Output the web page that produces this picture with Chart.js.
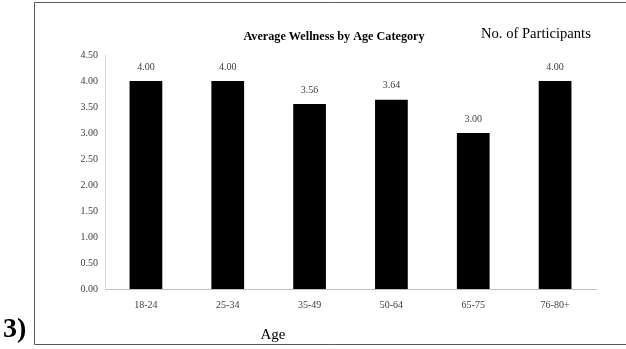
<!DOCTYPE html>
<html>
<head>
<meta charset="utf-8">
<script src="https://cdn.jsdelivr.net/npm/chart.js@4.4.1/dist/chart.umd.min.js"></script>
<style>
  html, body { margin: 0; padding: 0; background: #fff; }
  #wrap { position: relative; width: 626px; height: 349px; }
  canvas { display: block; }
</style>
</head>
<body>
<div id="wrap"><canvas id="c" width="626" height="349"></canvas></div>
<script>
const categories = ['18-24', '25-34', '35-49', '50-64', '65-75', '76-80+'];
const wellness = [4.00, 4.00, 3.56, 3.64, 3.00, 4.00];
const yMin = 0;
const yMax = 4.5;
const yStep = 0.5;
const chartTitle = 'Average Wellness by Age Category';
const legendText = 'No. of Participants';
const xTitle = 'Age';
const figLabel = '3)';

const SERIF = '"Liberation Serif", "Times New Roman", serif';

const decor = {
  id: 'decor',
  beforeDraw(chart) {
    const ctx = chart.ctx;
    ctx.save();
    ctx.fillStyle = '#fff';
    ctx.fillRect(0, 0, chart.width, chart.height);
    ctx.restore();
  },
  afterDatasetsDraw(chart) {
    const ctx = chart.ctx;
    const meta = chart.getDatasetMeta(0);
    ctx.save();
    ctx.font = '10px ' + SERIF;
    ctx.fillStyle = '#404040';
    ctx.textAlign = 'center';
    ctx.textBaseline = 'middle';
    meta.data.forEach((bar, i) => {
      ctx.fillText(wellness[i].toFixed(2), bar.x, bar.y - 14);
    });
    ctx.restore();
  },
  afterDraw(chart) {
    const ctx = chart.ctx;
    ctx.save();
    // outer frame
    ctx.strokeStyle = '#595959';
    ctx.lineWidth = 1;
    ctx.beginPath();
    ctx.moveTo(700, 2.5);
    ctx.lineTo(34.5, 2.5);
    ctx.lineTo(34.5, 344.5);
    ctx.lineTo(700, 344.5);
    ctx.stroke();
    // title
    ctx.fillStyle = '#000';
    ctx.textBaseline = 'middle';
    ctx.textAlign = 'center';
    ctx.font = 'bold 12.2px ' + SERIF;
    ctx.fillText(chartTitle, 334, 37);
    // legend-like text
    ctx.textAlign = 'left';
    ctx.font = '14.6px ' + SERIF;
    ctx.fillText(legendText, 481, 34);
    // x axis title
    ctx.textAlign = 'center';
    ctx.font = '15px ' + SERIF;
    ctx.fillText(xTitle, 273, 335);
    // figure label
    ctx.textAlign = 'left';
    ctx.font = 'bold 28px ' + SERIF;
    ctx.fillText(figLabel, 3, 330);
    ctx.restore();
  }
};

new Chart(document.getElementById('c'), {
  type: 'bar',
  data: {
    labels: categories,
    datasets: [{
      data: wellness,
      backgroundColor: '#000',
      borderWidth: 0,
      barPercentage: 0.4,
      categoryPercentage: 1.0
    }]
  },
  options: {
    responsive: false,
    animation: false,
    devicePixelRatio: 1,
    layout: { padding: { left: 34, right: 30, top: 55, bottom: 0 } },
    plugins: { legend: { display: false }, title: { display: false }, tooltip: { enabled: false } },
    scales: {
      x: {
        grid: { display: false, drawTicks: false },
        border: { display: true, color: '#bfbfbf', width: 1 },
        ticks: { color: '#404040', font: { family: SERIF, size: 10 }, padding: 10, maxRotation: 0 },
        afterFit(s) { s.height = 60; }
      },
      y: {
        min: yMin,
        max: yMax,
        grid: { display: false, drawTicks: false },
        border: { display: true, color: '#d9d9d9', width: 1 },
        ticks: {
          stepSize: yStep,
          color: '#404040',
          font: { family: SERIF, size: 10 },
          padding: 7,
          callback: v => Number(v).toFixed(2)
        },
        afterFit(s) { s.width = 71; }
      }
    }
  },
  plugins: [decor]
});
</script>
</body>
</html>
